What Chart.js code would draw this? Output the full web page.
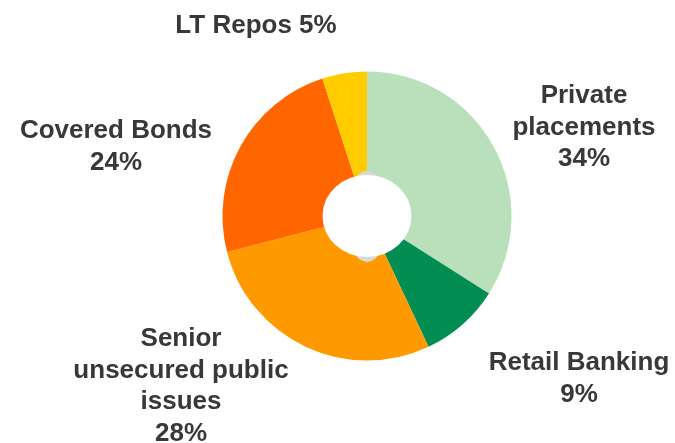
<!DOCTYPE html>
<html>
<head>
<meta charset="utf-8">
<script src="https://cdn.jsdelivr.net/npm/chart.js@4/dist/chart.umd.min.js"></script>
<style>
html,body{margin:0;padding:0;background:#fff;}
#wrap{width:675px;height:443px;}
</style>
</head>
<body>
<div id="wrap"><canvas id="c" width="675" height="443"></canvas></div>
<script>
// Data
const categories = ["Private placements", "Retail Banking", "Senior unsecured public issues", "Covered Bonds", "LT Repos"];
const shares = [34, 9, 28, 24, 5];
const sliceColors = ["#B9DFBB", "#028D53", "#FF9900", "#FF6600", "#FFCC00"];

// Label layout (text lines + anchor for each category)
const labelLines = [
  ["Private", "placements", "34%"],
  ["Retail Banking", "9%"],
  ["Senior", "unsecured public", "issues", "28%"],
  ["Covered Bonds", "24%"],
  ["LT Repos 5%"]
];
const labelAnchors = [
  {x: 584, y: 103},
  {x: 579, y: 370},
  {x: 181, y: 346},
  {x: 116, y: 138},
  {x: 256, y: 33}
];
const lineHeight = 31.5;

const labelPlugin = {
  id: 'labels',
  afterDraw(chart) {
    const ctx = chart.ctx;
    ctx.save();
    ctx.font = 'bold 26px "Liberation Sans", Arial, sans-serif';
    ctx.fillStyle = '#383838';
    ctx.textAlign = 'center';
    ctx.textBaseline = 'alphabetic';
    labelLines.forEach((lines, i) => {
      const a = labelAnchors[i];
      lines.forEach((t, j) => ctx.fillText(t, a.x, a.y + j * lineHeight));
    });
    ctx.restore();
  }
};

const holePlugin = {
  id: 'hole',
  afterDatasetsDraw(chart) {
    const arc = chart.getDatasetMeta(0).data[0];
    const ctx = chart.ctx;
    const cx = arc.x, cy = arc.y;
    ctx.save();
    ctx.fillStyle = '#D9D9D9';
    ctx.beginPath();
    ctx.ellipse(cx, cy + 0.5, 22, 45.5, 0, 0, Math.PI * 2);
    ctx.fill();
    ctx.fillStyle = '#FFFFFF';
    ctx.beginPath();
    ctx.ellipse(cx, cy, 44.5, 41, 0, 0, Math.PI * 2);
    ctx.fill();
    ctx.restore();
  }
};

new Chart(document.getElementById('c'), {
  type: 'pie',
  data: {
    labels: categories,
    datasets: [{
      data: shares,
      backgroundColor: sliceColors,
      borderWidth: 0
    }]
  },
  options: {
    responsive: false,
    animation: false,
    layout: { padding: { left: 222.5, right: 163.5, top: 71.5, bottom: 82.5 } },
    plugins: {
      legend: { display: false },
      tooltip: { enabled: false }
    }
  },
  plugins: [holePlugin, labelPlugin]
});
</script>
</body>
</html>
